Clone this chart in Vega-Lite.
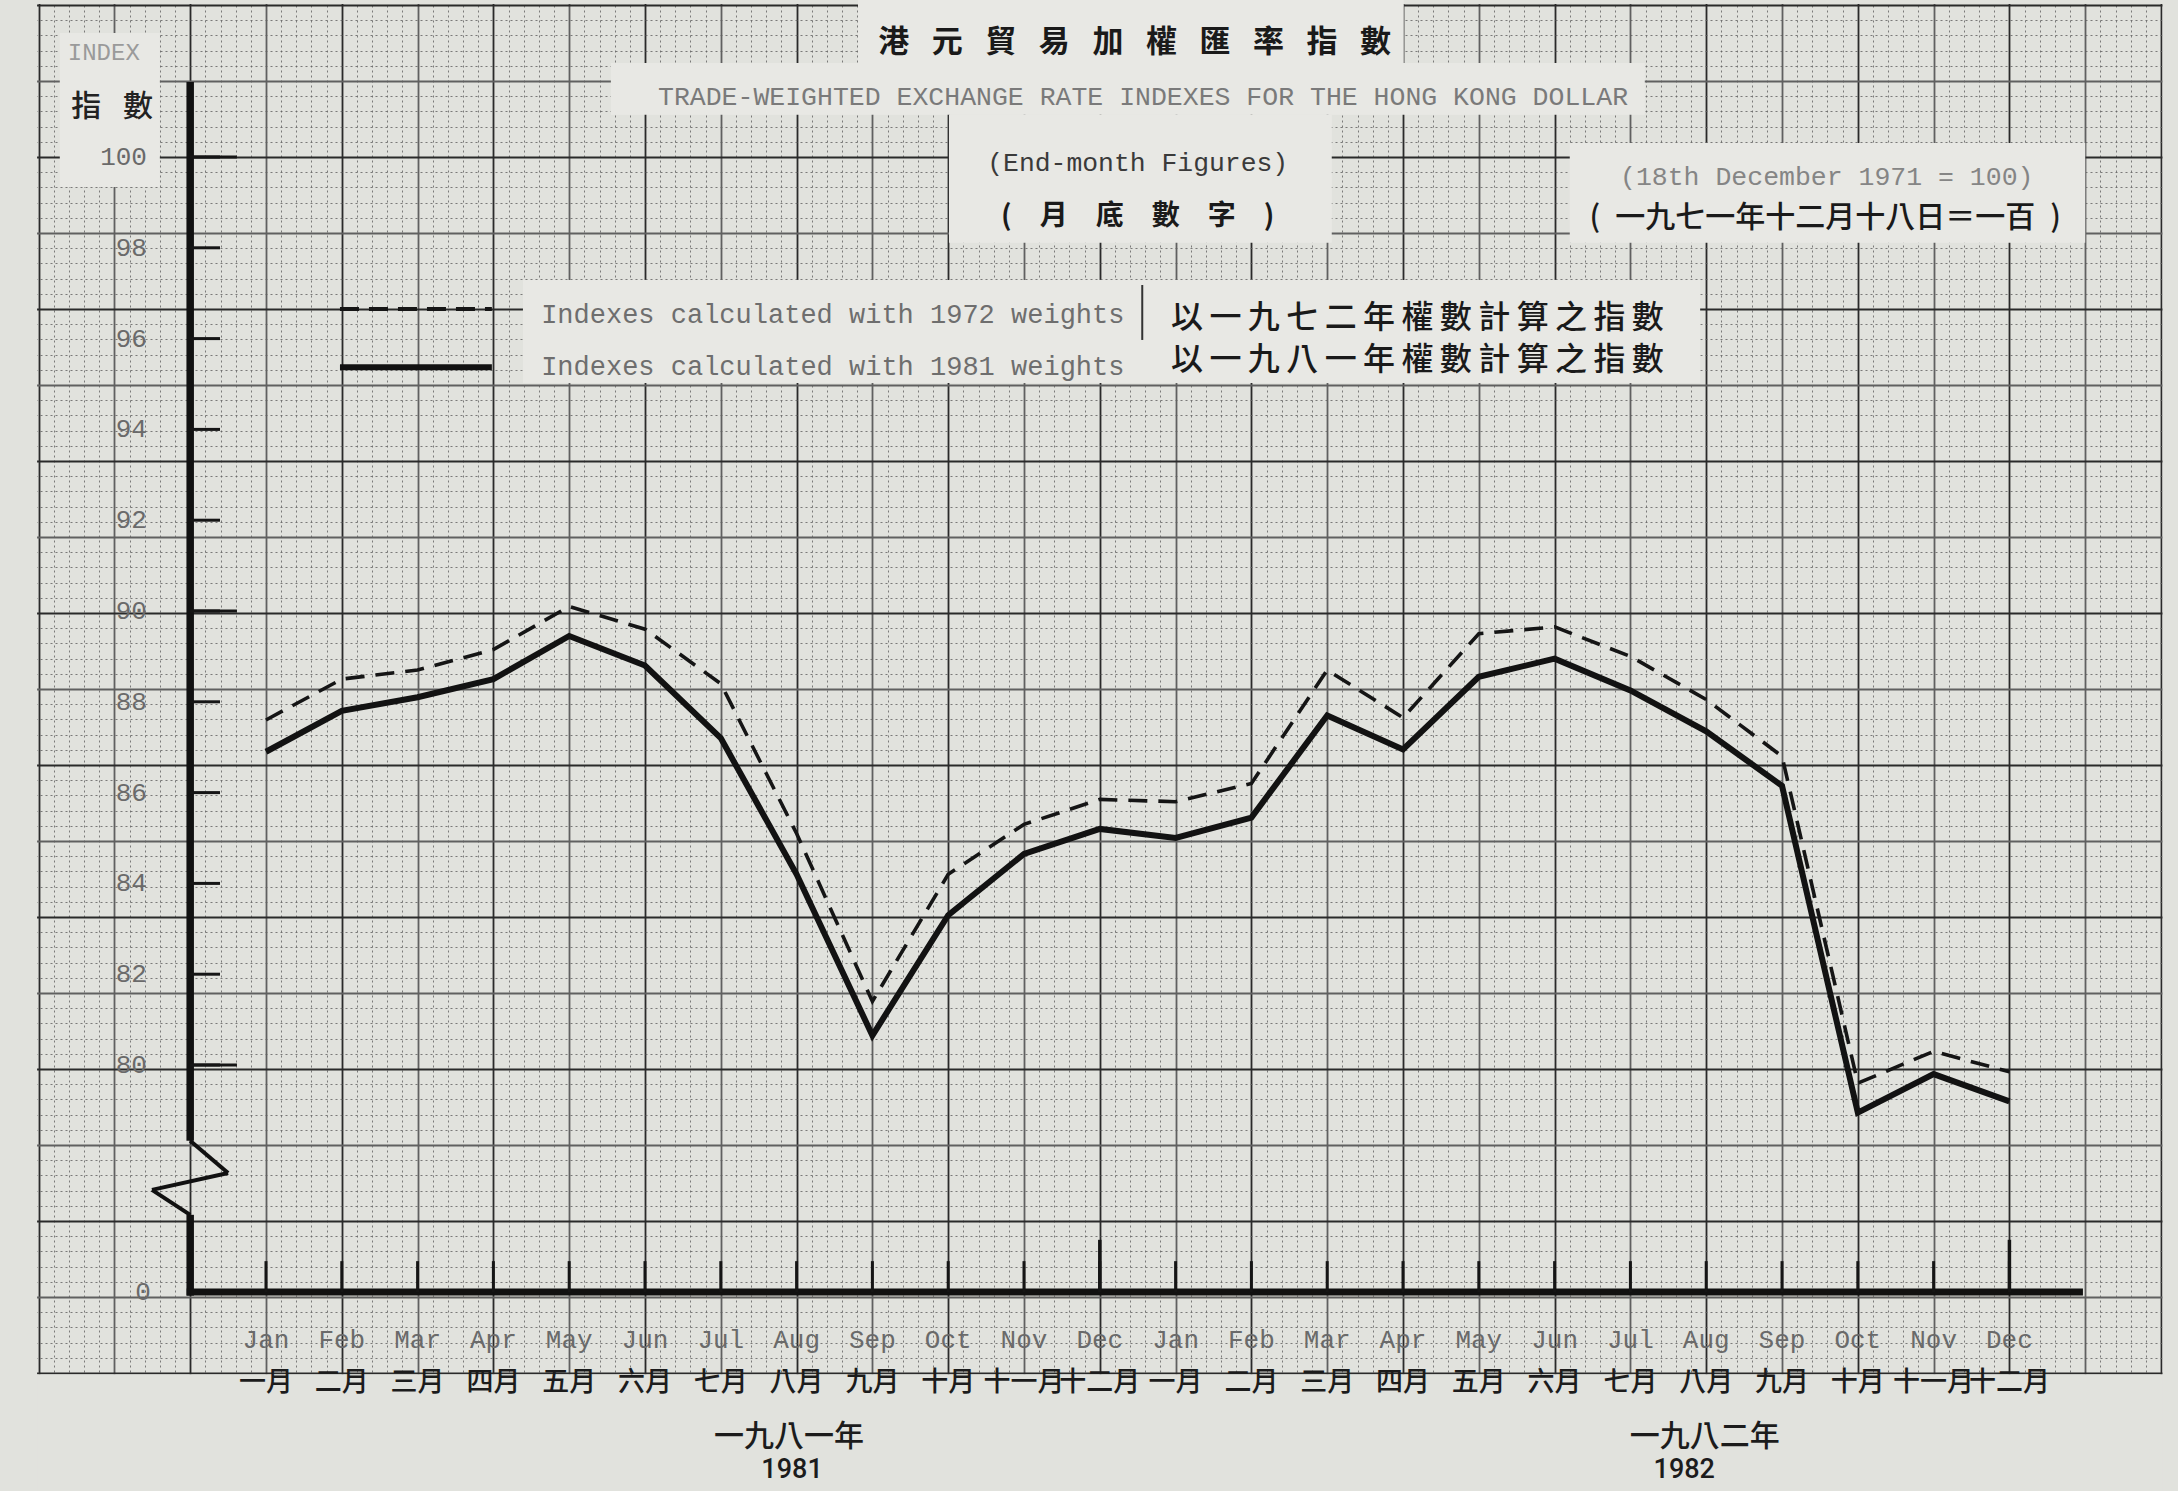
{
  "$schema": "https://vega.github.io/schema/vega-lite/v6.json",
  "width": 2178,
  "height": 1491,
  "autosize": {"type": "none"},
  "padding": 0,
  "background": "#e1e2dd",
  "config": {"view": {"stroke": null}},
  "resolve": {"axis": {"x": "independent", "y": "independent"}},
  "datasets": {
    "index": [
      {"t": 0, "month": "1981-01", "series": "1981 weights", "index": 86.9},
      {"t": 1, "month": "1981-02", "series": "1981 weights", "index": 87.8},
      {"t": 2, "month": "1981-03", "series": "1981 weights", "index": 88.1},
      {"t": 3, "month": "1981-04", "series": "1981 weights", "index": 88.5},
      {"t": 4, "month": "1981-05", "series": "1981 weights", "index": 89.45},
      {"t": 5, "month": "1981-06", "series": "1981 weights", "index": 88.8},
      {"t": 6, "month": "1981-07", "series": "1981 weights", "index": 87.2},
      {"t": 7, "month": "1981-08", "series": "1981 weights", "index": 84.2},
      {"t": 8, "month": "1981-09", "series": "1981 weights", "index": 80.65},
      {"t": 9, "month": "1981-10", "series": "1981 weights", "index": 83.3},
      {"t": 10, "month": "1981-11", "series": "1981 weights", "index": 84.65},
      {"t": 11, "month": "1981-12", "series": "1981 weights", "index": 85.2},
      {"t": 12, "month": "1982-01", "series": "1981 weights", "index": 85.0},
      {"t": 13, "month": "1982-02", "series": "1981 weights", "index": 85.45},
      {"t": 14, "month": "1982-03", "series": "1981 weights", "index": 87.7},
      {"t": 15, "month": "1982-04", "series": "1981 weights", "index": 86.95},
      {"t": 16, "month": "1982-05", "series": "1981 weights", "index": 88.55},
      {"t": 17, "month": "1982-06", "series": "1981 weights", "index": 88.95},
      {"t": 18, "month": "1982-07", "series": "1981 weights", "index": 88.25},
      {"t": 19, "month": "1982-08", "series": "1981 weights", "index": 87.35},
      {"t": 20, "month": "1982-09", "series": "1981 weights", "index": 86.15},
      {"t": 21, "month": "1982-10", "series": "1981 weights", "index": 78.95},
      {"t": 22, "month": "1982-11", "series": "1981 weights", "index": 79.8},
      {"t": 23, "month": "1982-12", "series": "1981 weights", "index": 79.2},
      {"t": 0, "month": "1981-01", "series": "1972 weights", "index": 87.6},
      {"t": 1, "month": "1981-02", "series": "1972 weights", "index": 88.5},
      {"t": 2, "month": "1981-03", "series": "1972 weights", "index": 88.7},
      {"t": 3, "month": "1981-04", "series": "1972 weights", "index": 89.15},
      {"t": 4, "month": "1981-05", "series": "1972 weights", "index": 90.1},
      {"t": 5, "month": "1981-06", "series": "1972 weights", "index": 89.6},
      {"t": 6, "month": "1981-07", "series": "1972 weights", "index": 88.4},
      {"t": 7, "month": "1981-08", "series": "1972 weights", "index": 85.1},
      {"t": 8, "month": "1981-09", "series": "1972 weights", "index": 81.4},
      {"t": 9, "month": "1981-10", "series": "1972 weights", "index": 84.2},
      {"t": 10, "month": "1981-11", "series": "1972 weights", "index": 85.3},
      {"t": 11, "month": "1981-12", "series": "1972 weights", "index": 85.85},
      {"t": 12, "month": "1982-01", "series": "1972 weights", "index": 85.8},
      {"t": 13, "month": "1982-02", "series": "1972 weights", "index": 86.2},
      {"t": 14, "month": "1982-03", "series": "1972 weights", "index": 88.7},
      {"t": 15, "month": "1982-04", "series": "1972 weights", "index": 87.65},
      {"t": 16, "month": "1982-05", "series": "1972 weights", "index": 89.5},
      {"t": 17, "month": "1982-06", "series": "1972 weights", "index": 89.65},
      {"t": 18, "month": "1982-07", "series": "1972 weights", "index": 89.0},
      {"t": 19, "month": "1982-08", "series": "1972 weights", "index": 88.05},
      {"t": 20, "month": "1982-09", "series": "1972 weights", "index": 86.8},
      {"t": 21, "month": "1982-10", "series": "1972 weights", "index": 79.6},
      {"t": 22, "month": "1982-11", "series": "1972 weights", "index": 80.3},
      {"t": 23, "month": "1982-12", "series": "1972 weights", "index": 79.85}
    ],
    "months": [
      {"t": 0, "en": "Jan", "zh": "一月"}, {"t": 1, "en": "Feb", "zh": "二月"}, {"t": 2, "en": "Mar", "zh": "三月"},
      {"t": 3, "en": "Apr", "zh": "四月"}, {"t": 4, "en": "May", "zh": "五月"}, {"t": 5, "en": "Jun", "zh": "六月"},
      {"t": 6, "en": "Jul", "zh": "七月"}, {"t": 7, "en": "Aug", "zh": "八月"}, {"t": 8, "en": "Sep", "zh": "九月"},
      {"t": 9, "en": "Oct", "zh": "十月"}, {"t": 10, "en": "Nov", "zh": "十一月"}, {"t": 11, "en": "Dec", "zh": "十二月"},
      {"t": 12, "en": "Jan", "zh": "一月"}, {"t": 13, "en": "Feb", "zh": "二月"}, {"t": 14, "en": "Mar", "zh": "三月"},
      {"t": 15, "en": "Apr", "zh": "四月"}, {"t": 16, "en": "May", "zh": "五月"}, {"t": 17, "en": "Jun", "zh": "六月"},
      {"t": 18, "en": "Jul", "zh": "七月"}, {"t": 19, "en": "Aug", "zh": "八月"}, {"t": 20, "en": "Sep", "zh": "九月"},
      {"t": 21, "en": "Oct", "zh": "十月"}, {"t": 22, "en": "Nov", "zh": "十一月"}, {"t": 23, "en": "Dec", "zh": "十二月"}
    ],
    "yticks": [
      {"value": 80}, {"value": 82}, {"value": 84}, {"value": 86}, {"value": 88}, {"value": 90},
      {"value": 92}, {"value": 94}, {"value": 96}, {"value": 98}, {"value": 100}
    ],
    "one": [{}]
  },
  "layer": [
    {"data": {"name": "index"}, "transform": [{"filter": "datum.series == '1981 weights'"}],
     "mark": {"type": "line", "color": "#121212", "strokeWidth": 6, "opacity": 0},
     "encoding": {
       "x": {"field": "t", "type": "quantitative", "scale": {"domain": [-3.509, 25.224], "nice": false, "zero": false},
             "axis": {"grid": true, "labels": false, "ticks": false, "domain": false, "title": null,
                      "values": [-3,-2.8,-2.6,-2.4,-2.2,-2,-1.8,-1.6,-1.4,-1.2,-1,-0.8,-0.6,-0.4,-0.2,0,0.2,0.4,0.6,0.8,1,1.2,1.4,1.6,1.8,2,2.2,2.4,2.6,2.8,3,3.2,3.4,3.6,3.8,4,4.2,4.4,4.6,4.8,5,5.2,5.4,5.6,5.8,6,6.2,6.4,6.6,6.8,7,7.2,7.4,7.6,7.8,8,8.2,8.4,8.6,8.8,9,9.2,9.4,9.6,9.8,10,10.2,10.4,10.6,10.8,11,11.2,11.4,11.6,11.8,12,12.2,12.4,12.6,12.8,13,13.2,13.4,13.6,13.8,14,14.2,14.4,14.6,14.8,15,15.2,15.4,15.6,15.8,16,16.2,16.4,16.6,16.8,17,17.2,17.4,17.6,17.8,18,18.2,18.4,18.6,18.8,19,19.2,19.4,19.6,19.8,20,20.2,20.4,20.6,20.8,21,21.2,21.4,21.6,21.8,22,22.2,22.4,22.6,22.8,23,23.2,23.4,23.6,23.8,24,24.2,24.4,24.6,24.8,25],
                      "gridColor": {"condition": {"test": "abs(datum.value - round(datum.value)) < 0.01 && abs(round(datum.value)) % 2 == 1", "value": "#2a2a2a"}, "value": "#606060"},
                      "gridWidth": {"condition": {"test": "abs(datum.value - round(datum.value)) > 0.01", "value": 1}, "value": 1.8},
                      "gridDash": {"condition": {"test": "abs(datum.value - round(datum.value)) > 0.01", "value": [2, 3]}, "value": []},
                      "gridOpacity": {"condition": {"test": "abs(datum.value - round(datum.value)) > 0.01", "value": 0.8}, "value": 1}}},
       "y": {"field": "index", "type": "quantitative", "scale": {"domain": [70.617, 103.458], "nice": false, "zero": false},
             "axis": {"grid": true, "labels": false, "ticks": false, "domain": false, "title": null,
                      "values": [103.348,103.013,102.678,102.344,102.009,101.674,101.339,101.004,100.67,100.335,100,99.665,99.33,98.996,98.661,98.326,97.991,97.656,97.322,96.987,96.652,96.317,95.982,95.648,95.313,94.978,94.643,94.308,93.974,93.639,93.304,92.969,92.634,92.3,91.965,91.63,91.295,90.96,90.626,90.291,89.956,89.621,89.286,88.952,88.617,88.282,87.947,87.612,87.278,86.943,86.608,86.273,85.938,85.604,85.269,84.934,84.599,84.264,83.93,83.595,83.26,82.925,82.59,82.256,81.921,81.586,81.251,80.916,80.582,80.247,79.912,79.577,79.242,78.908,78.573,78.238,77.903,77.568,77.234,76.899,76.564,76.229,75.894,75.56,75.225,74.89,74.555,74.22,73.886,73.551,73.216],
                      "gridColor": {"condition": {"test": "round((100 - datum.value) / 0.3348) % 10 == 0", "value": "#2a2a2a"}, "value": "#606060"},
                      "gridWidth": {"condition": {"test": "round((100 - datum.value) / 0.3348) % 5 != 0", "value": 1}, "value": 1.8},
                      "gridDash": {"condition": {"test": "round((100 - datum.value) / 0.3348) % 5 != 0", "value": [2, 3]}, "value": []},
                      "gridOpacity": {"condition": {"test": "round((100 - datum.value) / 0.3348) % 5 != 0", "value": 0.8}, "value": 1}}}}},

    {"data": {"name": "one"}, "mark": {"type": "rect", "color": "#e1e2dd"},
     "encoding": {"x": {"datum": -3.6, "type": "quantitative", "scale": {"domain": [-3.509, 25.224], "nice": false, "zero": false}, "axis": null}, "x2": {"datum": 25.3},
                  "y": {"datum": 70.5, "type": "quantitative", "scale": {"domain": [70.617, 103.458], "nice": false, "zero": false}, "axis": null}, "y2": {"datum": 73.19}}},
    {"data": {"name": "one"}, "mark": {"type": "rect", "color": "#e1e2dd"},
     "encoding": {"x": {"datum": -3.6, "type": "quantitative", "scale": {"domain": [-3.509, 25.224], "nice": false, "zero": false}, "axis": null}, "x2": {"datum": -3.02},
                  "y": {"datum": 70.5, "type": "quantitative", "scale": {"domain": [70.617, 103.458], "nice": false, "zero": false}, "axis": null}, "y2": {"datum": 103.5}}},
    {"data": {"name": "one"}, "mark": {"type": "rect", "color": "#e1e2dd"},
     "encoding": {"x": {"datum": 25.02, "type": "quantitative", "scale": {"domain": [-3.509, 25.224], "nice": false, "zero": false}, "axis": null}, "x2": {"datum": 25.3},
                  "y": {"datum": 70.5, "type": "quantitative", "scale": {"domain": [70.617, 103.458], "nice": false, "zero": false}, "axis": null}, "y2": {"datum": 103.5}}},
    {"data": {"name": "one"}, "mark": {"type": "rect", "color": "#e1e2dd"},
     "encoding": {"x": {"datum": -3.6, "type": "quantitative", "scale": {"domain": [-3.509, 25.224], "nice": false, "zero": false}, "axis": null}, "x2": {"datum": 25.3},
                  "y": {"datum": 103.37, "type": "quantitative", "scale": {"domain": [70.617, 103.458], "nice": false, "zero": false}, "axis": null}, "y2": {"datum": 103.5}}},
    {"data": {"name": "one"}, "mark": {"type": "rect", "color": "#e8e8e4"},
     "encoding": {"x": {"datum": 7.81, "type": "quantitative", "scale": {"domain": [-3.509, 25.224], "nice": false, "zero": false}, "axis": null}, "x2": {"datum": 15.01},
                  "y": {"datum": 102.07, "type": "quantitative", "scale": {"domain": [70.617, 103.458], "nice": false, "zero": false}, "axis": null}, "y2": {"datum": 103.5}}},
    {"data": {"name": "one"}, "mark": {"type": "rect", "color": "#e8e8e4"},
     "encoding": {"x": {"datum": 4.55, "type": "quantitative", "scale": {"domain": [-3.509, 25.224], "nice": false, "zero": false}, "axis": null}, "x2": {"datum": 18.19},
                  "y": {"datum": 100.93, "type": "quantitative", "scale": {"domain": [70.617, 103.458], "nice": false, "zero": false}, "axis": null}, "y2": {"datum": 102.07}}},
    {"data": {"name": "one"}, "mark": {"type": "rect", "color": "#e8e8e4"},
     "encoding": {"x": {"datum": 9.01, "type": "quantitative", "scale": {"domain": [-3.509, 25.224], "nice": false, "zero": false}, "axis": null}, "x2": {"datum": 14.06},
                  "y": {"datum": 98.11, "type": "quantitative", "scale": {"domain": [70.617, 103.458], "nice": false, "zero": false}, "axis": null}, "y2": {"datum": 100.93}}},
    {"data": {"name": "one"}, "mark": {"type": "rect", "color": "#e8e8e4"},
     "encoding": {"x": {"datum": 17.2, "type": "quantitative", "scale": {"domain": [-3.509, 25.224], "nice": false, "zero": false}, "axis": null}, "x2": {"datum": 24.0},
                  "y": {"datum": 98.11, "type": "quantitative", "scale": {"domain": [70.617, 103.458], "nice": false, "zero": false}, "axis": null}, "y2": {"datum": 100.31}}},
    {"data": {"name": "one"}, "mark": {"type": "rect", "color": "#e8e8e4"},
     "encoding": {"x": {"datum": 3.39, "type": "quantitative", "scale": {"domain": [-3.509, 25.224], "nice": false, "zero": false}, "axis": null}, "x2": {"datum": 18.92},
                  "y": {"datum": 95.02, "type": "quantitative", "scale": {"domain": [70.617, 103.458], "nice": false, "zero": false}, "axis": null}, "y2": {"datum": 97.29}}},
    {"data": {"name": "one"}, "mark": {"type": "rect", "color": "#e8e8e4"},
     "encoding": {"x": {"datum": -2.72, "type": "quantitative", "scale": {"domain": [-3.509, 25.224], "nice": false, "zero": false}, "axis": null}, "x2": {"datum": -1.4},
                  "y": {"datum": 99.34, "type": "quantitative", "scale": {"domain": [70.617, 103.458], "nice": false, "zero": false}, "axis": null}, "y2": {"datum": 102.73}}},

    {"data": {"name": "index"}, "transform": [{"filter": "datum.series == '1972 weights'"}],
     "mark": {"type": "line", "color": "#151515", "strokeWidth": 3.6, "strokeDash": [19, 11]},
     "encoding": {"x": {"field": "t", "type": "quantitative", "scale": {"domain": [-3.509, 25.224], "nice": false, "zero": false}, "axis": null},
                  "y": {"field": "index", "type": "quantitative", "scale": {"domain": [70.617, 103.458], "nice": false, "zero": false}, "axis": null}}},
    {"data": {"name": "index"}, "transform": [{"filter": "datum.series == '1981 weights'"}],
     "mark": {"type": "line", "color": "#121212", "strokeWidth": 6},
     "encoding": {"x": {"field": "t", "type": "quantitative", "scale": {"domain": [-3.509, 25.224], "nice": false, "zero": false}, "axis": null},
                  "y": {"field": "index", "type": "quantitative", "scale": {"domain": [70.617, 103.458], "nice": false, "zero": false}, "axis": null}}},

    {"data": {"name": "one"}, "mark": {"type": "rule", "color": "#111", "strokeWidth": 7.5},
     "encoding": {"x": {"datum": -1, "type": "quantitative", "scale": {"domain": [-3.509, 25.224], "nice": false, "zero": false}, "axis": null},
                  "y": {"datum": 101.65, "type": "quantitative", "scale": {"domain": [70.617, 103.458], "nice": false, "zero": false}, "axis": null}, "y2": {"datum": 78.33}}},
    {"data": {"name": "one"}, "mark": {"type": "rule", "color": "#111", "strokeWidth": 4},
     "encoding": {"x": {"datum": -1, "type": "quantitative", "scale": {"domain": [-3.509, 25.224], "nice": false, "zero": false}, "axis": null}, "x2": {"datum": -0.5},
                  "y": {"datum": 78.33, "type": "quantitative", "scale": {"domain": [70.617, 103.458], "nice": false, "zero": false}, "axis": null}, "y2": {"datum": 77.62}}},
    {"data": {"name": "one"}, "mark": {"type": "rule", "color": "#111", "strokeWidth": 4},
     "encoding": {"x": {"datum": -0.5, "type": "quantitative", "scale": {"domain": [-3.509, 25.224], "nice": false, "zero": false}, "axis": null}, "x2": {"datum": -1.504},
                  "y": {"datum": 77.62, "type": "quantitative", "scale": {"domain": [70.617, 103.458], "nice": false, "zero": false}, "axis": null}, "y2": {"datum": 77.25}}},
    {"data": {"name": "one"}, "mark": {"type": "rule", "color": "#111", "strokeWidth": 4},
     "encoding": {"x": {"datum": -1.504, "type": "quantitative", "scale": {"domain": [-3.509, 25.224], "nice": false, "zero": false}, "axis": null}, "x2": {"datum": -1},
                  "y": {"datum": 77.25, "type": "quantitative", "scale": {"domain": [70.617, 103.458], "nice": false, "zero": false}, "axis": null}, "y2": {"datum": 76.7}}},
    {"data": {"name": "one"}, "mark": {"type": "rule", "color": "#111", "strokeWidth": 7.5},
     "encoding": {"x": {"datum": -1, "type": "quantitative", "scale": {"domain": [-3.509, 25.224], "nice": false, "zero": false}, "axis": null},
                  "y": {"datum": 76.7, "type": "quantitative", "scale": {"domain": [70.617, 103.458], "nice": false, "zero": false}, "axis": null}, "y2": {"datum": 74.92}}},
    {"data": {"name": "one"}, "mark": {"type": "rule", "color": "#111", "strokeWidth": 7},
     "encoding": {"x": {"datum": -1.046, "type": "quantitative", "scale": {"domain": [-3.509, 25.224], "nice": false, "zero": false}, "axis": null}, "x2": {"datum": 23.97},
                  "y": {"datum": 75, "type": "quantitative", "scale": {"domain": [70.617, 103.458], "nice": false, "zero": false}, "axis": null}}},

    {"data": {"name": "yticks"}, "mark": {"type": "rule", "color": "#151515", "strokeWidth": 3},
     "encoding": {"x": {"datum": -1, "type": "quantitative", "scale": {"domain": [-3.509, 25.224], "nice": false, "zero": false}, "axis": null}, "x2": {"datum": -0.607},
                  "y": {"field": "value", "type": "quantitative", "scale": {"domain": [70.617, 103.458], "nice": false, "zero": false}, "axis": null}}},
    {"data": {"name": "yticks"}, "transform": [{"filter": "datum.value % 10 == 0"}], "mark": {"type": "rule", "color": "#151515", "strokeWidth": 3},
     "encoding": {"x": {"datum": -1, "type": "quantitative", "scale": {"domain": [-3.509, 25.224], "nice": false, "zero": false}, "axis": null}, "x2": {"datum": -0.383},
                  "y": {"field": "value", "type": "quantitative", "scale": {"domain": [70.617, 103.458], "nice": false, "zero": false}, "axis": null}}},
    {"data": {"name": "months"}, "mark": {"type": "rule", "color": "#151515", "strokeWidth": 3},
     "encoding": {"x": {"field": "t", "type": "quantitative", "scale": {"domain": [-3.509, 25.224], "nice": false, "zero": false}, "axis": null},
                  "y": {"datum": 75, "type": "quantitative", "scale": {"domain": [70.617, 103.458], "nice": false, "zero": false}, "axis": null}, "y2": {"datum": 75.68}}},
    {"data": {"name": "months"}, "transform": [{"filter": "datum.en == 'Dec'"}], "mark": {"type": "rule", "color": "#151515", "strokeWidth": 3.5},
     "encoding": {"x": {"field": "t", "type": "quantitative", "scale": {"domain": [-3.509, 25.224], "nice": false, "zero": false}, "axis": null},
                  "y": {"datum": 75, "type": "quantitative", "scale": {"domain": [70.617, 103.458], "nice": false, "zero": false}, "axis": null}, "y2": {"datum": 76.15}}},

    {"data": {"name": "yticks"}, "mark": {"type": "text", "font": "Liberation Mono", "fontSize": 26, "color": "#6a6a6a", "align": "right", "baseline": "middle"},
     "encoding": {"x": {"datum": -1.57, "type": "quantitative", "scale": {"domain": [-3.509, 25.224], "nice": false, "zero": false}, "axis": null},
                  "y": {"field": "value", "type": "quantitative", "scale": {"domain": [70.617, 103.458], "nice": false, "zero": false}, "axis": null},
                  "text": {"field": "value", "type": "quantitative"}}},
    {"data": {"name": "one"}, "mark": {"type": "text", "text": "0", "font": "Liberation Mono", "fontSize": 26, "color": "#6a6a6a", "align": "right", "baseline": "middle"},
     "encoding": {"x": {"datum": -1.52, "type": "quantitative", "scale": {"domain": [-3.509, 25.224], "nice": false, "zero": false}, "axis": null},
                  "y": {"datum": 75, "type": "quantitative", "scale": {"domain": [70.617, 103.458], "nice": false, "zero": false}, "axis": null}}},
    {"data": {"name": "one"}, "mark": {"type": "text", "text": "INDEX", "font": "Liberation Mono", "fontSize": 24, "color": "#9a9a9a", "align": "center", "baseline": "middle"},
     "encoding": {"x": {"datum": -2.14, "type": "quantitative", "scale": {"domain": [-3.509, 25.224], "nice": false, "zero": false}, "axis": null},
                  "y": {"datum": 102.29, "type": "quantitative", "scale": {"domain": [70.617, 103.458], "nice": false, "zero": false}, "axis": null}}},
    {"data": {"name": "one"}, "mark": {"type": "text", "text": "指\u2002 數", "font": "Noto Sans CJK TC", "fontSize": 30, "fontWeight": 500, "color": "#222", "align": "center", "baseline": "middle"},
     "encoding": {"x": {"datum": -2.03, "type": "quantitative", "scale": {"domain": [-3.509, 25.224], "nice": false, "zero": false}, "axis": null},
                  "y": {"datum": 101.1, "type": "quantitative", "scale": {"domain": [70.617, 103.458], "nice": false, "zero": false}, "axis": null}}},

    {"data": {"name": "months"}, "mark": {"type": "text", "font": "Liberation Mono", "fontSize": 26, "color": "#6a6a6a", "align": "center", "baseline": "middle"},
     "encoding": {"x": {"field": "t", "type": "quantitative", "scale": {"domain": [-3.509, 25.224], "nice": false, "zero": false}, "axis": null},
                  "y": {"datum": 73.94, "type": "quantitative", "scale": {"domain": [70.617, 103.458], "nice": false, "zero": false}, "axis": null},
                  "text": {"field": "en"}}},
    {"data": {"name": "months"}, "mark": {"type": "text", "font": "Noto Sans CJK TC", "fontSize": 27, "fontWeight": 500, "color": "#1c1c1c", "align": "center", "baseline": "middle"},
     "encoding": {"x": {"field": "t", "type": "quantitative", "scale": {"domain": [-3.509, 25.224], "nice": false, "zero": false}, "axis": null},
                  "y": {"datum": 73.0, "type": "quantitative", "scale": {"domain": [70.617, 103.458], "nice": false, "zero": false}, "axis": null},
                  "text": {"field": "zh"}}},
    {"data": {"name": "one"}, "mark": {"type": "text", "text": "一九八一年", "font": "Noto Sans CJK TC", "fontSize": 30, "fontWeight": 500, "color": "#1c1c1c", "align": "center", "baseline": "middle"},
     "encoding": {"x": {"datum": 6.9, "type": "quantitative", "scale": {"domain": [-3.509, 25.224], "nice": false, "zero": false}, "axis": null},
                  "y": {"datum": 71.8, "type": "quantitative", "scale": {"domain": [70.617, 103.458], "nice": false, "zero": false}, "axis": null}}},
    {"data": {"name": "one"}, "mark": {"type": "text", "text": "1981", "font": "Roboto", "fontSize": 27, "fontWeight": 500, "color": "#1c1c1c", "align": "center", "baseline": "middle"},
     "encoding": {"x": {"datum": 6.94, "type": "quantitative", "scale": {"domain": [-3.509, 25.224], "nice": false, "zero": false}, "axis": null},
                  "y": {"datum": 71.07, "type": "quantitative", "scale": {"domain": [70.617, 103.458], "nice": false, "zero": false}, "axis": null}}},
    {"data": {"name": "one"}, "mark": {"type": "text", "text": "一九八二年", "font": "Noto Sans CJK TC", "fontSize": 30, "fontWeight": 500, "color": "#1c1c1c", "align": "center", "baseline": "middle"},
     "encoding": {"x": {"datum": 18.98, "type": "quantitative", "scale": {"domain": [-3.509, 25.224], "nice": false, "zero": false}, "axis": null},
                  "y": {"datum": 71.8, "type": "quantitative", "scale": {"domain": [70.617, 103.458], "nice": false, "zero": false}, "axis": null}}},
    {"data": {"name": "one"}, "mark": {"type": "text", "text": "1982", "font": "Roboto", "fontSize": 27, "fontWeight": 500, "color": "#1c1c1c", "align": "center", "baseline": "middle"},
     "encoding": {"x": {"datum": 18.71, "type": "quantitative", "scale": {"domain": [-3.509, 25.224], "nice": false, "zero": false}, "axis": null},
                  "y": {"datum": 71.07, "type": "quantitative", "scale": {"domain": [70.617, 103.458], "nice": false, "zero": false}, "axis": null}}},

    {"data": {"name": "one"}, "mark": {"type": "text", "text": "港\u2002 元\u2002 貿\u2002 易\u2002 加\u2002 權\u2002 匯\u2002 率\u2002 指\u2002 數", "font": "Noto Sans CJK TC", "fontSize": 31, "fontWeight": "bold", "color": "#1a1a1a", "align": "center", "baseline": "middle"},
     "encoding": {"x": {"datum": 11.46, "type": "quantitative", "scale": {"domain": [-3.509, 25.224], "nice": false, "zero": false}, "axis": null},
                  "y": {"datum": 102.51, "type": "quantitative", "scale": {"domain": [70.617, 103.458], "nice": false, "zero": false}, "axis": null}}},
    {"data": {"name": "one"}, "mark": {"type": "text", "text": "TRADE-WEIGHTED EXCHANGE RATE INDEXES FOR THE HONG KONG DOLLAR", "font": "Liberation Mono", "fontSize": 26.5, "color": "#7a7a7a", "align": "center", "baseline": "middle"},
     "encoding": {"x": {"datum": 11.57, "type": "quantitative", "scale": {"domain": [-3.509, 25.224], "nice": false, "zero": false}, "axis": null},
                  "y": {"datum": 101.32, "type": "quantitative", "scale": {"domain": [70.617, 103.458], "nice": false, "zero": false}, "axis": null}}},
    {"data": {"name": "one"}, "mark": {"type": "text", "text": "(End-month Figures)", "font": "Liberation Mono", "fontSize": 26.4, "color": "#3a3a3a", "align": "center", "baseline": "middle"},
     "encoding": {"x": {"datum": 11.5, "type": "quantitative", "scale": {"domain": [-3.509, 25.224], "nice": false, "zero": false}, "axis": null},
                  "y": {"datum": 99.87, "type": "quantitative", "scale": {"domain": [70.617, 103.458], "nice": false, "zero": false}, "axis": null}}},
    {"data": {"name": "one"}, "mark": {"type": "text", "text": "(\u2003月\u2003底\u2003數\u2003字\u2003)", "font": "Noto Sans CJK TC", "fontSize": 28, "fontWeight": "bold", "color": "#1a1a1a", "align": "center", "baseline": "middle"},
     "encoding": {"x": {"datum": 11.5, "type": "quantitative", "scale": {"domain": [-3.509, 25.224], "nice": false, "zero": false}, "axis": null},
                  "y": {"datum": 98.68, "type": "quantitative", "scale": {"domain": [70.617, 103.458], "nice": false, "zero": false}, "axis": null}}},
    {"data": {"name": "one"}, "mark": {"type": "text", "text": "(18th December 1971 = 100)", "font": "Liberation Mono", "fontSize": 26.5, "color": "#858585", "align": "center", "baseline": "middle"},
     "encoding": {"x": {"datum": 20.59, "type": "quantitative", "scale": {"domain": [-3.509, 25.224], "nice": false, "zero": false}, "axis": null},
                  "y": {"datum": 99.56, "type": "quantitative", "scale": {"domain": [70.617, 103.458], "nice": false, "zero": false}, "axis": null}}},
    {"data": {"name": "one"}, "mark": {"type": "text", "text": "(\u2002一九七一年十二月十八日＝一百\u2002)", "font": "Noto Sans CJK TC", "fontSize": 30, "fontWeight": 500, "color": "#1a1a1a", "align": "center", "baseline": "middle"},
     "encoding": {"x": {"datum": 20.57, "type": "quantitative", "scale": {"domain": [-3.509, 25.224], "nice": false, "zero": false}, "axis": null},
                  "y": {"datum": 98.66, "type": "quantitative", "scale": {"domain": [70.617, 103.458], "nice": false, "zero": false}, "axis": null}}},

    {"data": {"name": "one"}, "mark": {"type": "rule", "color": "#151515", "strokeWidth": 4, "strokeDash": [19, 10]},
     "encoding": {"x": {"datum": 0.976, "type": "quantitative", "scale": {"domain": [-3.509, 25.224], "nice": false, "zero": false}, "axis": null}, "x2": {"datum": 2.98},
                  "y": {"datum": 96.65, "type": "quantitative", "scale": {"domain": [70.617, 103.458], "nice": false, "zero": false}, "axis": null}}},
    {"data": {"name": "one"}, "mark": {"type": "rule", "color": "#121212", "strokeWidth": 6},
     "encoding": {"x": {"datum": 0.976, "type": "quantitative", "scale": {"domain": [-3.509, 25.224], "nice": false, "zero": false}, "axis": null}, "x2": {"datum": 2.98},
                  "y": {"datum": 95.37, "type": "quantitative", "scale": {"domain": [70.617, 103.458], "nice": false, "zero": false}, "axis": null}}},
    {"data": {"name": "one"}, "mark": {"type": "text", "text": "Indexes calculated with 1972 weights", "font": "Liberation Mono", "fontSize": 27, "color": "#6e6e6e", "align": "left", "baseline": "middle"},
     "encoding": {"x": {"datum": 3.63, "type": "quantitative", "scale": {"domain": [-3.509, 25.224], "nice": false, "zero": false}, "axis": null},
                  "y": {"datum": 96.52, "type": "quantitative", "scale": {"domain": [70.617, 103.458], "nice": false, "zero": false}, "axis": null}}},
    {"data": {"name": "one"}, "mark": {"type": "text", "text": "Indexes calculated with 1981 weights", "font": "Liberation Mono", "fontSize": 27, "color": "#6e6e6e", "align": "left", "baseline": "middle"},
     "encoding": {"x": {"datum": 3.63, "type": "quantitative", "scale": {"domain": [-3.509, 25.224], "nice": false, "zero": false}, "axis": null},
                  "y": {"datum": 95.37, "type": "quantitative", "scale": {"domain": [70.617, 103.458], "nice": false, "zero": false}, "axis": null}}},
    {"data": {"name": "one"}, "mark": {"type": "rule", "color": "#333", "strokeWidth": 2},
     "encoding": {"x": {"datum": 11.56, "type": "quantitative", "scale": {"domain": [-3.509, 25.224], "nice": false, "zero": false}, "axis": null},
                  "y": {"datum": 97.18, "type": "quantitative", "scale": {"domain": [70.617, 103.458], "nice": false, "zero": false}, "axis": null}, "y2": {"datum": 95.97}}},
    {"data": {"name": "one"}, "mark": {"type": "text", "text": "以\u2009一\u2009九\u2009七\u2009二\u2009年\u2009權\u2009數\u2009計\u2009算\u2009之\u2009指\u2009數", "font": "Noto Sans CJK TC", "fontSize": 32, "fontWeight": 500, "color": "#1a1a1a", "align": "left", "baseline": "middle"},
     "encoding": {"x": {"datum": 11.94, "type": "quantitative", "scale": {"domain": [-3.509, 25.224], "nice": false, "zero": false}, "axis": null},
                  "y": {"datum": 96.45, "type": "quantitative", "scale": {"domain": [70.617, 103.458], "nice": false, "zero": false}, "axis": null}}},
    {"data": {"name": "one"}, "mark": {"type": "text", "text": "以\u2009一\u2009九\u2009八\u2009一\u2009年\u2009權\u2009數\u2009計\u2009算\u2009之\u2009指\u2009數", "font": "Noto Sans CJK TC", "fontSize": 32, "fontWeight": 500, "color": "#1a1a1a", "align": "left", "baseline": "middle"},
     "encoding": {"x": {"datum": 11.94, "type": "quantitative", "scale": {"domain": [-3.509, 25.224], "nice": false, "zero": false}, "axis": null},
                  "y": {"datum": 95.53, "type": "quantitative", "scale": {"domain": [70.617, 103.458], "nice": false, "zero": false}, "axis": null}}}
  ]
}
